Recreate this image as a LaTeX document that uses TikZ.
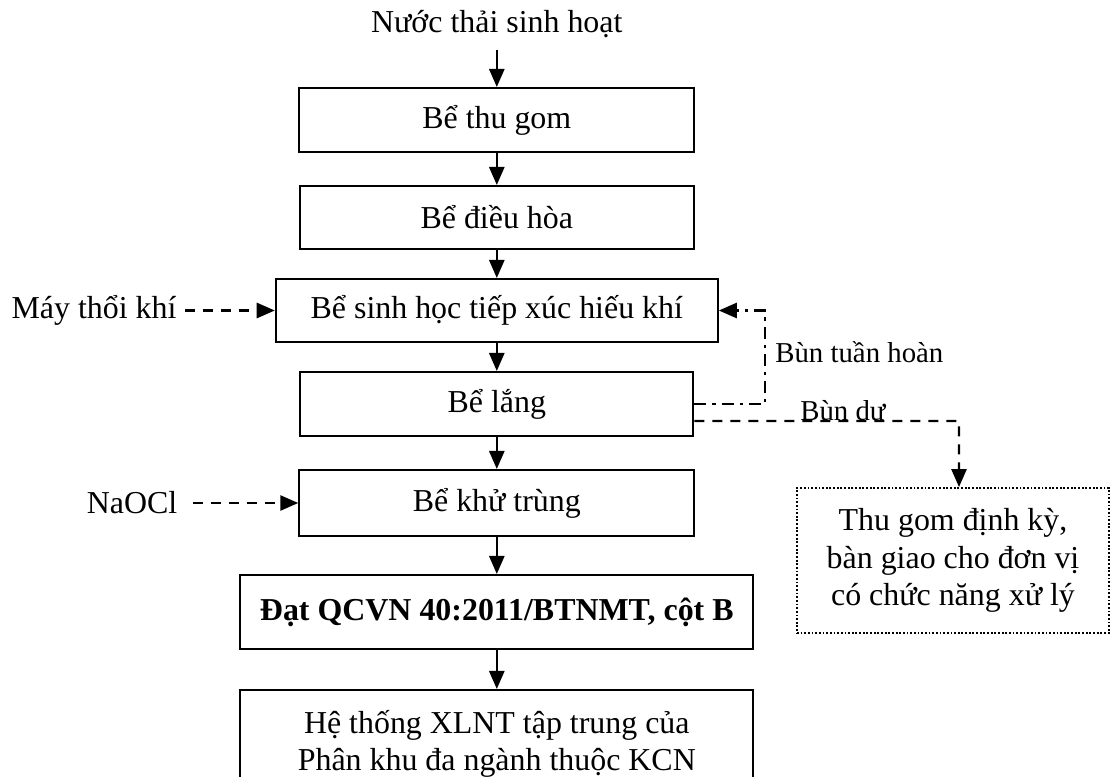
\documentclass[tikz,border=0pt]{standalone}
\usepackage{fontspec}
\setmainfont{Liberation Serif}
\usetikzlibrary{arrows.meta, positioning}

\begin{document}
\begin{tikzpicture}[
    font=\fontsize{22.7}{26.5}\selectfont,
    box/.style={draw, line width=1.5pt, inner sep=0pt, align=center},
    dotbox/.style={draw, line width=1.4pt, dash pattern=on 1.3pt off 1.3pt, inner sep=0pt, align=center},
    note/.style={font=\fontsize{20.5}{24}\selectfont, inner sep=0pt},
    arrow/.style={-{Triangle[length=0.45cm,width=0.38cm]}, line width=1.5pt},
    dasharrow/.style={arrow, dash pattern=on 0.25cm off 0.2cm},
    dotdasharrow/.style={arrow, dash pattern=on 0.3cm off 0.15cm on 0.08cm off 0.15cm}
]
    \clip (0,0) rectangle (27.775,-19.4);

    % main treatment line
    \node (nuocthai) at (12.42,-0.6) {Nước thải sinh hoạt};
    \node[box, minimum width=9.875cm, minimum height=1.6cm] (thugom) at (12.42,-3.0) {Bể thu gom};
    \node[box, minimum width=9.85cm, minimum height=1.575cm] (dieuhoa) at (12.42,-5.4375) {Bể điều hòa};
    \node[box, minimum width=11.05cm, minimum height=1.575cm] (sinhhoc) at (12.42,-7.7625) {Bể sinh học tiếp xúc hiếu khí};
    \node[box, minimum width=9.825cm, minimum height=1.6cm] (lang) at (12.42,-10.1) {Bể lắng};
    \node[box, minimum width=9.875cm, minimum height=1.65cm] (khutrung) at (12.42,-12.575) {Bể khử trùng};
    \node[box, minimum width=12.825cm, minimum height=1.85cm] (dat) at (12.42,-15.3) {\textbf{Đạt QCVN 40:2011/BTNMT, cột B}};
    \node[box, minimum width=12.825cm, minimum height=2.7cm] (hethong) at (12.42,-18.6) {Hệ thống XLNT tập trung của\\Phân khu đa ngành thuộc KCN};

    % inputs and sludge
    \node (maythoi) at (2.35,-7.7625) {Máy thổi khí};
    \node (naocl) at (3.3,-12.575) {NaOCl};
    \node[dotbox, minimum width=7.8cm, minimum height=3.625cm] (xuly) at (23.825,-14.0125) {Thu gom định kỳ,\\bàn giao cho đơn vị\\có chức năng xử lý};

    \draw[arrow, shorten <=0.18cm] (nuocthai) -- (thugom);
    \draw[arrow] (thugom) -- (dieuhoa);
    \draw[arrow] (dieuhoa) -- (sinhhoc);
    \draw[arrow] (sinhhoc) -- (lang);
    \draw[arrow] (lang) -- (khutrung);
    \draw[arrow] (khutrung) -- (dat);
    \draw[arrow] (dat) -- (hethong);

    \draw[dasharrow, shorten <=0.1cm] (maythoi) -- (sinhhoc);
    \draw[dasharrow, shorten <=0.26cm] (naocl) -- (khutrung);

    % return sludge and excess sludge
    \coordinate (hoan) at (19.125,-10.1);
    \draw[dotdasharrow] (lang.east) -- (hoan) |- (sinhhoc.east);
    \node[note, anchor=west] (buntuan) at (19.375,-8.8) {Bùn tuần hoàn};

    \coordinate (du) at (23.975,-10.525);
    \draw[dasharrow] ([yshift=-0.425cm]lang.east) -- (du) -- (du |- xuly.north);
    \node[note, anchor=base west] (bundu) at (20.0,-10.5) {Bùn dư};
\end{tikzpicture}
\end{document}
